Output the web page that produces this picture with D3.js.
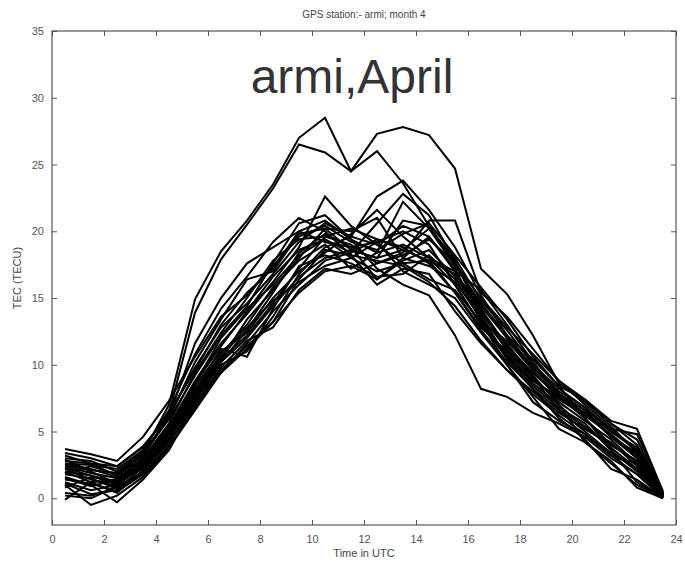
<!DOCTYPE html>
<html>
<head>
<meta charset="utf-8">
<script src="https://cdn.jsdelivr.net/npm/d3@7"></script>
<style>
  html, body { margin: 0; padding: 0; background: #fff; }
  svg { display: block; }
</style>
</head>
<body>
<svg id="chart" width="685" height="566"></svg>
<script>
// Hourly TEC samples (TECU) at UTC hour marks, one array per day of the month
const hours = [0.5, 1.5, 2.5, 3.5, 4.5, 5.5, 6.5, 7.5, 8.5, 9.5, 10.5, 11.5,
               12.5, 13.5, 14.5, 15.5, 16.5, 17.5, 18.5, 19.5, 20.5, 21.5, 22.5, 23.5];

const day01 = [2.6, 2.2, 1.6, 3.4, 7.0, 14.9, 18.5, 20.8, 23.5, 27.0, 28.5, 24.5, 27.3, 27.8, 27.2, 24.7, 17.2, 15.3, 12.2, 8.6, 7.2, 5.6, 4.0, 0.3];
const day02 = [2.0, 1.7, 1.2, 3.1, 6.4, 13.9, 17.9, 20.5, 23.2, 26.5, 25.9, 24.5, 26.0, 23.6, 20.4, 17.6, 14.2, 11.4, 9.4, 7.8, 6.6, 4.6, 3.4, 0.2];
const day03 = [3.7, 3.3, 2.8, 4.6, 7.3, 10.6, 13.6, 15.2, 17.4, 19.6, 20.4, 19.2, 18.6, 19.8, 20.6, 18.2, 15.8, 13.4, 10.6, 8.4, 7.4, 5.8, 5.2, 0.5];
const day04 = [-0.1, 1.2, 1.4, 2.2, 4.4, 7.6, 10.4, 12.2, 14.6, 17.2, 19.6, 20.2, 19.4, 18.8, 17.6, 15.4, 12.6, 10.2, 8.2, 6.6, 5.4, 3.8, 2.2, 0.1];
const day05 = [1.0, -0.5, 0.2, 1.6, 3.8, 6.6, 9.4, 11.2, 13.2, 16.4, 18.6, 18.2, 17.8, 17.4, 16.2, 14.4, 11.8, 9.6, 7.8, 6.2, 4.8, 3.2, 1.8, 0.0];
const day06 = [2.8, 2.6, 2.4, 3.9, 6.2, 9.8, 12.8, 14.6, 16.8, 19.2, 20.6, 19.6, 22.6, 23.8, 21.6, 18.8, 15.2, 12.2, 9.8, 8.0, 6.8, 5.0, 3.6, 0.4];
const day07 = [1.6, 1.0, -0.3, 1.4, 3.6, 7.2, 10.2, 12.6, 15.4, 18.4, 19.8, 18.8, 16.4, 17.8, 18.6, 16.6, 13.8, 11.6, 9.0, 7.2, 5.8, 4.4, 2.6, 0.1];
const day08 = [2.4, 1.9, 1.5, 2.9, 5.4, 8.8, 11.6, 13.8, 16.2, 18.8, 22.6, 20.4, 19.0, 17.6, 16.4, 15.6, 13.2, 11.8, 9.6, 7.4, 6.2, 4.8, 3.2, 0.2];
const day09 = [1.2, 0.6, 1.0, 2.4, 4.8, 8.0, 10.8, 13.0, 15.8, 17.8, 19.0, 17.2, 18.4, 22.2, 20.2, 17.4, 14.6, 12.2, 10.4, 8.4, 6.0, 3.6, 1.2, 0.0];
const day10 = [3.0, 2.8, 2.0, 3.5, 5.9, 9.2, 12.2, 14.4, 17.6, 20.6, 21.2, 19.4, 17.2, 16.0, 15.2, 12.2, 8.2, 7.6, 6.4, 5.6, 4.6, 3.0, 1.8, 0.1];
const day11 = [0.4, 0.2, 0.8, 2.0, 4.2, 7.0, 9.8, 11.8, 12.8, 15.6, 17.2, 16.8, 17.6, 18.4, 20.8, 20.8, 15.4, 13.6, 11.2, 8.8, 7.4, 5.6, 4.4, 0.3];
const day12 = [2.2, 1.4, 0.9, 2.6, 5.0, 8.4, 11.0, 12.4, 15.0, 17.0, 18.4, 19.8, 21.6, 19.6, 18.0, 16.0, 13.0, 10.8, 8.6, 7.0, 5.2, 4.0, 2.8, 0.2];
const day13 = [1.9, 2.4, 1.8, 3.2, 6.0, 10.2, 13.4, 16.4, 17.0, 19.8, 20.2, 18.6, 18.0, 18.6, 17.8, 16.8, 14.2, 11.0, 8.8, 7.6, 6.4, 5.0, 3.8, 0.3];
const day14 = [2.9, 2.0, 1.1, 2.8, 5.2, 8.6, 12.0, 14.2, 16.0, 18.2, 19.4, 18.4, 20.6, 22.8, 21.2, 17.8, 13.6, 10.6, 8.4, 6.8, 5.6, 3.6, 2.0, 0.1];
const day15 = [1.4, 1.1, 0.5, 1.8, 4.0, 7.4, 10.0, 11.0, 13.6, 16.8, 18.8, 19.6, 19.0, 20.4, 19.6, 17.0, 14.0, 11.4, 9.2, 7.0, 4.2, 2.8, 0.8, 0.0];
const day16 = [2.6, 2.5, 2.2, 3.6, 6.6, 10.8, 14.2, 16.6, 19.2, 21.0, 20.0, 18.2, 16.0, 17.2, 16.8, 14.0, 11.6, 9.6, 8.0, 6.4, 5.2, 4.2, 2.4, 0.2];
const day17 = [0.8, 1.6, 1.3, 2.5, 4.6, 7.8, 10.6, 12.8, 14.8, 16.2, 17.4, 18.0, 19.2, 17.0, 16.0, 15.0, 12.4, 10.0, 7.2, 5.8, 4.8, 3.2, 2.6, 0.4];
const day18 = [2.0, 1.2, 0.4, 2.1, 4.9, 8.2, 10.4, 13.4, 15.6, 18.0, 20.2, 20.0, 21.0, 18.0, 17.4, 16.2, 13.6, 11.2, 9.0, 6.6, 5.0, 3.4, 2.2, 0.1];
const day19 = [3.2, 2.6, 1.7, 3.0, 5.6, 9.4, 12.4, 15.0, 17.8, 19.4, 19.6, 19.0, 17.6, 18.2, 19.4, 17.6, 15.0, 12.8, 10.8, 8.8, 7.0, 5.4, 3.4, 0.3];
const day20 = [1.5, 0.9, 1.4, 2.7, 5.0, 8.0, 11.2, 10.6, 14.2, 17.4, 18.2, 17.6, 16.6, 16.8, 18.2, 16.4, 13.4, 10.4, 8.2, 6.0, 4.4, 2.2, 1.4, 0.0];
const day21 = [2.5, 2.1, 1.9, 3.3, 6.1, 11.6, 15.0, 17.6, 18.8, 20.0, 19.2, 18.8, 19.2, 20.0, 19.0, 16.0, 13.0, 10.6, 8.8, 7.4, 6.4, 4.6, 3.0, 0.2];
const day22 = [1.8, 1.5, 0.7, 2.3, 4.5, 7.4, 10.2, 12.0, 14.4, 16.6, 18.0, 18.6, 18.0, 20.8, 20.4, 17.6, 14.4, 12.0, 9.8, 7.8, 6.2, 4.8, 3.0, 0.4];
const day23 = [2.3, 1.7, 1.0, 2.6, 5.2, 8.6, 11.4, 14.0, 16.6, 18.6, 19.4, 18.0, 17.0, 17.6, 17.8, 15.4, 12.8, 11.0, 9.4, 7.6, 6.0, 4.0, 2.8, 0.1];
const day24 = [1.1, 0.3, 0.6, 2.0, 4.4, 7.6, 9.4, 11.6, 14.0, 16.0, 17.8, 18.4, 19.4, 18.6, 20.2, 18.0, 14.8, 12.6, 10.0, 8.2, 6.8, 5.2, 3.6, 0.2];
const day25 = [3.4, 3.0, 2.4, 3.8, 6.4, 9.6, 13.0, 15.4, 17.2, 20.0, 20.8, 19.4, 18.4, 19.0, 18.0, 17.0, 15.6, 13.0, 10.2, 7.8, 6.6, 5.2, 4.8, 0.5];
const day26 = [0.2, 0.0, 0.9, 1.8, 3.8, 6.8, 9.6, 11.4, 13.2, 15.4, 17.0, 17.4, 16.4, 18.0, 19.6, 17.2, 13.2, 10.0, 7.6, 5.2, 4.2, 2.6, 1.0, 0.0];

const days = [day01, day02, day03, day04, day05, day06, day07, day08, day09, day10,
              day11, day12, day13, day14, day15, day16, day17, day18, day19, day20,
              day21, day22, day23, day24, day25, day26];

const xTicks = [0, 2, 4, 6, 8, 10, 12, 14, 16, 18, 20, 22, 24];
const yTicks = [0, 5, 10, 15, 20, 25, 30, 35];

const titleText = "GPS station:- armi; month 4";
const overlayText = "armi,April";
const xLabel = "Time in UTC";
const yLabel = "TEC (TECU)";

// Plot frame in pixels
const plotL = 52, plotR = 676, plotT = 31, plotB = 525;

const svg = d3.select("#chart");
const x = d3.scaleLinear().domain([0, 24]).range([plotL, plotR]);
const y = d3.scaleLinear().domain([-2, 35]).range([plotB, plotT]);

const axisColor = "#555";
const tickFont = "Liberation Sans, Arial, Helvetica, sans-serif";

// Frame box
svg.append("rect")
  .attr("x", plotL).attr("y", plotT)
  .attr("width", plotR - plotL).attr("height", plotB - plotT)
  .attr("fill", "none").attr("stroke", axisColor).attr("stroke-width", 1.2);

// Axes with inward ticks on all four sides
function styleAxis(g) {
  g.select(".domain").remove();
  g.selectAll(".tick line").attr("stroke", axisColor).attr("stroke-width", 1);
  g.selectAll(".tick text")
    .attr("fill", "#555")
    .attr("font-family", tickFont)
    .attr("font-size", 11);
}

svg.append("g")
  .attr("transform", `translate(0,${plotB})`)
  .call(d3.axisBottom(x).tickValues(xTicks).tickSizeInner(-5).tickSizeOuter(0).tickPadding(10)
        .tickFormat(d3.format("d")))
  .call(styleAxis);

svg.append("g")
  .attr("transform", `translate(0,${plotT})`)
  .call(d3.axisTop(x).tickValues(xTicks).tickSizeInner(-5).tickSizeOuter(0).tickFormat(""))
  .call(styleAxis);

svg.append("g")
  .attr("transform", `translate(${plotL},0)`)
  .call(d3.axisLeft(y).tickValues(yTicks).tickSizeInner(-5).tickSizeOuter(0).tickPadding(8)
        .tickFormat(d3.format("d")))
  .call(styleAxis);

svg.append("g")
  .attr("transform", `translate(${plotR},0)`)
  .call(d3.axisRight(y).tickValues(yTicks).tickSizeInner(-5).tickSizeOuter(0).tickFormat(""))
  .call(styleAxis);

// Daily TEC curves
const line = d3.line()
  .x((d, i) => x(hours[i]))
  .y(d => y(d));

svg.append("g")
  .selectAll("path")
  .data(days)
  .join("path")
  .attr("d", line)
  .attr("fill", "none")
  .attr("stroke", "#000")
  .attr("stroke-width", 2)
  .attr("stroke-linejoin", "miter");

// Titles and labels
svg.append("text")
  .attr("x", (plotL + plotR) / 2).attr("y", 18)
  .attr("text-anchor", "middle")
  .attr("font-family", tickFont).attr("font-size", 10)
  .attr("fill", "#444")
  .text(titleText);

svg.append("text")
  .attr("x", 352).attr("y", 93)
  .attr("text-anchor", "middle")
  .attr("font-family", tickFont).attr("font-size", 48)
  .attr("fill", "#333")
  .text(overlayText);

svg.append("text")
  .attr("x", (plotL + plotR) / 2).attr("y", 557)
  .attr("text-anchor", "middle")
  .attr("font-family", tickFont).attr("font-size", 11)
  .attr("fill", "#444")
  .text(xLabel);

svg.append("text")
  .attr("transform", `translate(21,${(plotT + plotB) / 2}) rotate(-90)`)
  .attr("text-anchor", "middle")
  .attr("font-family", tickFont).attr("font-size", 11)
  .attr("fill", "#444")
  .text(yLabel);
</script>
</body>
</html>
